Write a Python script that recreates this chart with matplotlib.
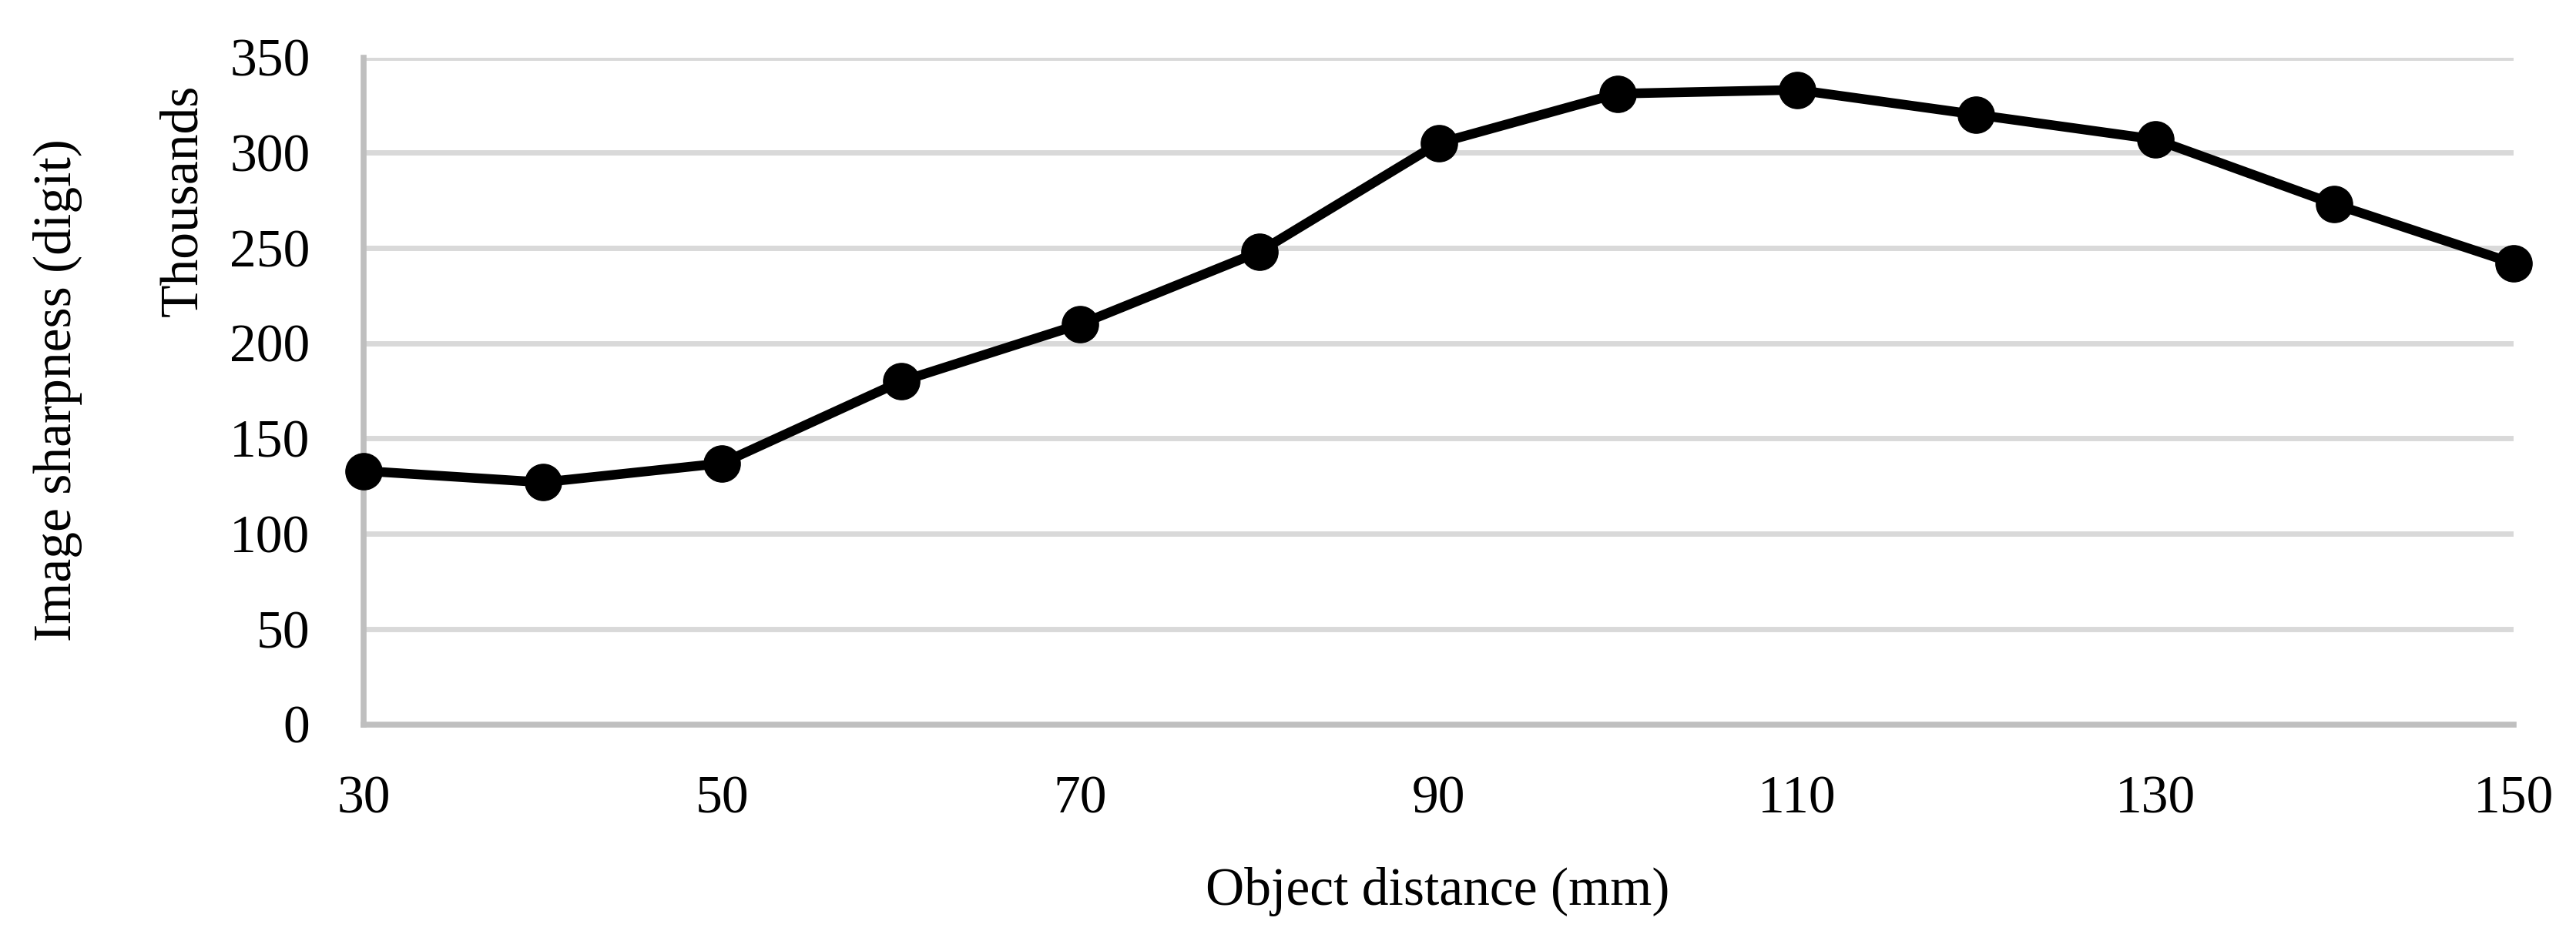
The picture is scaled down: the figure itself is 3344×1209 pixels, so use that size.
import matplotlib
matplotlib.use("Agg")
import matplotlib.pyplot as plt

# Data
distance_mm = [30, 40, 50, 60, 70, 80, 90, 100, 110, 120, 130, 140, 150]
sharpness = [133000, 127000, 137000, 180000, 210000, 248000, 305000,
             331000, 333000, 320000, 307000, 273000, 242000]
x_ticks = [30, 50, 70, 90, 110, 130, 150]
y_ticks = [0, 50, 100, 150, 200, 250, 300, 350]

plt.rcParams['font.family'] = ['Liberation Serif', 'DejaVu Serif']

W, H = 3344, 1209
fig = plt.figure(figsize=(W / 100, H / 100), dpi=100)
left, right, top, bottom = 472, 3263, 74.6, 940.6
ax = fig.add_axes([left / W, 1 - bottom / H, (right - left) / W, (bottom - top) / H])

ax.plot(distance_mm, [v / 1000 for v in sharpness], color='black', lw=9,
        marker='o', markersize=34, zorder=3, clip_on=False)

ax.set_xlim(30, 150)
ax.set_ylim(0, 350)
ax.set_xticks(x_ticks)
ax.set_yticks(y_ticks)
ax.grid(axis='y', color='#d9d9d9', lw=5, zorder=0)
ax.set_axisbelow(True)
for s in ['top', 'right']:
    ax.spines[s].set_visible(False)
for s in ['left', 'bottom']:
    ax.spines[s].set_color('#bfbfbf')
    ax.spines[s].set_linewidth(5.5)
ax.tick_params(axis='both', length=0, labelsize=50, colors='black')
ax.tick_params(axis='y', pad=50)
ax.tick_params(axis='x', pad=48)

fig.text(1866 / W, 1 - 1158 / H, 'Object distance (mm)', ha='center', va='center', fontsize=50)
fig.text(75 / W, 1 - 507 / H, 'Image sharpness (digit)', ha='center', va='center',
         rotation=90, fontsize=50)
fig.text(238 / W, 1 - 260 / H, 'Thousands', ha='center', va='center',
         rotation=90, fontsize=50)

fig.savefig('out.png', dpi=100, facecolor='white')
